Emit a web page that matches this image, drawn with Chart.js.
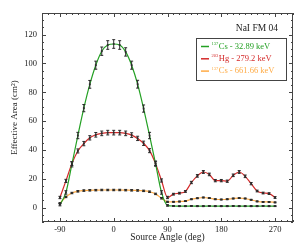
<!DOCTYPE html>
<html>
<head>
<meta charset="utf-8">
<script src="https://cdn.jsdelivr.net/npm/chart.js@4"></script>
<style>
  body { margin: 0; background: #fff; }
  #wrap { width: 305px; height: 249px; }
</style>
</head>
<body>
<div id="wrap"><canvas id="chart" width="305" height="249"></canvas></div>
<script>
// source angle (deg), one point every 10 deg
const angles = [-90, -80, -70, -60, -50, -40, -30, -20, -10, 0, 10, 20, 30, 40, 50, 60, 70, 80, 90,
  100, 110, 120, 130, 140, 150, 160, 170, 180, 190, 200, 210, 220, 230, 240, 250, 260, 270];

// effective area (cm^2) for each line
const cs32 = [2, 10.5, 30, 50, 69, 85.5, 98.8, 108.5, 112.8, 113.5, 112.8, 108, 98.8, 85.6, 68.7, 50, 30.5, 10.5, 1.5,
  1.1, 1.0, 1.0, 1.1, 1.0, 1.0, 1.1, 1.0, 1.0, 1.0, 1.1, 1.0, 1.0, 1.0, 1.0, 1.1, 1.0, 1.0];
const cs32Err = [0.8, 1.2, 1.8, 2.2, 2.5, 2.7, 2.8, 2.9, 3, 3, 3, 2.9, 2.8, 2.7, 2.5, 2.2, 1.8, 1.2, 0.5,
  0.3, 0.3, 0.3, 0.3, 0.3, 0.3, 0.3, 0.3, 0.3, 0.3, 0.3, 0.3, 0.3, 0.3, 0.3, 0.3, 0.3, 0.3];

const hg279 = [7, 18.5, 30.5, 39.3, 44.4, 48.4, 50.5, 51.5, 52, 52, 52, 51.5, 50.3, 48, 44.6, 39.5, 30.5, 18.8, 7,
  9.3, 10, 11.2, 17.4, 22, 24.7, 23, 18.7, 18.7, 18.3, 22.4, 24.7, 21.7, 16.6, 11.5, 10.1, 9.7, 7];
const hg279Err = [0.8, 1.1, 1.3, 1.4, 1.5, 1.5, 1.6, 1.6, 1.6, 1.6, 1.6, 1.6, 1.6, 1.5, 1.5, 1.4, 1.3, 1.1, 0.8,
  0.6, 0.6, 0.6, 0.8, 0.9, 1, 0.9, 0.8, 0.8, 0.8, 0.9, 1, 0.9, 0.8, 0.6, 0.6, 0.6, 0.6];

const cs661 = [3, 7.4, 10.1, 11.3, 11.8, 12, 12.1, 12.2, 12.2, 12.2, 12.2, 12.1, 12, 11.9, 11.6, 11, 9.5, 6.5, 4,
  4, 4.2, 4.5, 5.8, 6.5, 7, 6.6, 5.8, 5.6, 5.8, 6.3, 6.6, 6.3, 5.4, 4.3, 3.9, 3.9, 3.6];
const cs661Err = [0.4, 0.5, 0.5, 0.5, 0.5, 0.5, 0.5, 0.5, 0.5, 0.5, 0.5, 0.5, 0.5, 0.5, 0.5, 0.5, 0.5, 0.5, 0.4,
  0.3, 0.3, 0.3, 0.3, 0.3, 0.3, 0.3, 0.3, 0.3, 0.3, 0.3, 0.3, 0.3, 0.3, 0.3, 0.3, 0.3, 0.3];

const isotopes = ["137", "203", "137"];
const seriesNames = ["Cs - 32.89 keV", "Hg - 279.2 keV", "Cs - 661.66 keV"];
const colors = ["#23a023", "#d42a2a", "#ffab45"];

const xTicks = [-90, 0, 90, 180, 270];
const yTicks = [0, 20, 40, 60, 80, 100, 120];
const plotTitle = "NaI FM 04";

const serif = "'Liberation Serif', 'DejaVu Serif', serif";

function makeSet(i, vals, errs) {
  return {
    label: isotopes[i] + seriesNames[i],
    data: angles.map((a, k) => ({ x: a, y: vals[k] })),
    errors: errs,
    borderColor: colors[i],
    borderWidth: 1.2,
    pointStyle: "rect",
    pointRadius: 1.3,
    pointBackgroundColor: "#333",
    pointBorderWidth: 0,
    cubicInterpolationMode: "monotone",
    order: i,
  };
}

// error bars drawn through the scales
const errorBars = {
  id: "errorBars",
  afterDatasetsDraw(chart) {
    const { ctx, scales: { x, y } } = chart;
    ctx.save();
    ctx.strokeStyle = "#2a2a2a";
    ctx.lineWidth = 1;
    chart.data.datasets.forEach((ds) => {
      ds.data.forEach((p, i) => {
        const px = x.getPixelForValue(p.x);
        const top = y.getPixelForValue(p.y + ds.errors[i]);
        const bot = y.getPixelForValue(p.y - ds.errors[i]);
        ctx.beginPath();
        ctx.moveTo(px, top); ctx.lineTo(px, bot);
        ctx.moveTo(px - 1.5, top); ctx.lineTo(px + 1.5, top);
        ctx.moveTo(px - 1.5, bot); ctx.lineTo(px + 1.5, bot);
        ctx.stroke();
      });
    });
    ctx.restore();
  },
};

// box frame with inward major / minor ticks on all sides
const frame = {
  id: "frame",
  afterDraw(chart) {
    const { ctx, chartArea: a, scales: { x, y } } = chart;
    ctx.save();
    ctx.strokeStyle = "#444";
    ctx.lineWidth = 1;
    ctx.strokeRect(a.left + 0.5, a.top + 0.5, a.width - 1, a.height - 1);
    ctx.beginPath();
    for (let v = x.min; v <= x.max; v += 10) {
      const px = Math.round(x.getPixelForValue(v)) + 0.5;
      const len = xTicks.includes(v) ? 4 : 2;
      ctx.moveTo(px, a.bottom); ctx.lineTo(px, a.bottom - len);
      ctx.moveTo(px, a.top); ctx.lineTo(px, a.top + len);
    }
    for (let v = y.min; v <= y.max; v += 5) {
      const py = Math.round(y.getPixelForValue(v)) + 0.5;
      const len = yTicks.includes(v) ? 4 : 2;
      ctx.moveTo(a.left, py); ctx.lineTo(a.left + len, py);
      ctx.moveTo(a.right, py); ctx.lineTo(a.right - len, py);
    }
    ctx.stroke();
    ctx.restore();
  },
};

// plot title and legend box inside the plot area
const legendBox = {
  id: "legendBox",
  afterDraw(chart) {
    const { ctx, chartArea: a } = chart;
    ctx.save();
    ctx.fillStyle = "#222";
    ctx.font = "9.5px " + serif;
    ctx.textAlign = "right";
    ctx.textBaseline = "middle";
    ctx.fillText(plotTitle, a.right - 15, a.top + 15);

    const bx = a.right - 96.5, by = a.top + 25.5, bw = 90, bh = 42;
    ctx.fillStyle = "#fff";
    ctx.fillRect(bx, by, bw, bh);
    ctx.strokeStyle = "#444";
    ctx.lineWidth = 1;
    ctx.strokeRect(bx, by, bw, bh);

    ctx.textAlign = "left";
    for (let i = 0; i < 3; i++) {
      const ry = by + 8 + i * 12.3;
      ctx.strokeStyle = colors[i];
      ctx.lineWidth = 1.5;
      ctx.beginPath();
      ctx.moveTo(bx + 4.5, ry); ctx.lineTo(bx + 12.5, ry);
      ctx.stroke();
      ctx.fillStyle = colors[i];
      ctx.font = "4.5px " + serif;
      ctx.fillText(isotopes[i], bx + 15, ry - 2.5);
      const w = ctx.measureText(isotopes[i]).width;
      ctx.font = "8.5px " + serif;
      ctx.fillText(seriesNames[i], bx + 15.5 + w, ry);
    }
    ctx.restore();
  },
};

new Chart(document.getElementById("chart"), {
  type: "line",
  data: {
    datasets: [
      makeSet(0, cs32, cs32Err),
      makeSet(1, hg279, hg279Err),
      makeSet(2, cs661, cs661Err),
    ],
  },
  options: {
    responsive: false,
    animation: false,
    devicePixelRatio: 1,
    layout: { padding: { top: 13, right: 12, left: 0, bottom: 0 } },
    plugins: { legend: { display: false }, tooltip: { enabled: false } },
    scales: {
      x: {
        type: "linear",
        min: -120,
        max: 300,
        afterBuildTicks: (s) => { s.ticks = xTicks.map((v) => ({ value: v })); },
        afterFit: (s) => { s.height = 27; },
        grid: { display: false, drawTicks: false },
        border: { display: false },
        ticks: { color: "#222", padding: 3, maxRotation: 0, font: { family: serif, size: 8.5 } },
        title: {
          display: true,
          text: "Source Angle (deg)",
          color: "#222",
          padding: { top: 0, bottom: 5.5 },
          font: { family: serif, size: 9.5 },
        },
      },
      y: {
        type: "linear",
        min: -10,
        max: 135,
        afterBuildTicks: (s) => { s.ticks = yTicks.map((v) => ({ value: v })); },
        afterFit: (s) => { s.width = 42; },
        grid: { display: false, drawTicks: false },
        border: { display: false },
        ticks: { color: "#222", padding: 5, font: { family: serif, size: 8.5 } },
        title: {
          display: true,
          text: "Effective Area (cm²)",
          color: "#222",
          padding: { top: 9.5, bottom: 0 },
          font: { family: serif, size: 9 },
        },
      },
    },
  },
  plugins: [errorBars, frame, legendBox],
});
</script>
</body>
</html>
